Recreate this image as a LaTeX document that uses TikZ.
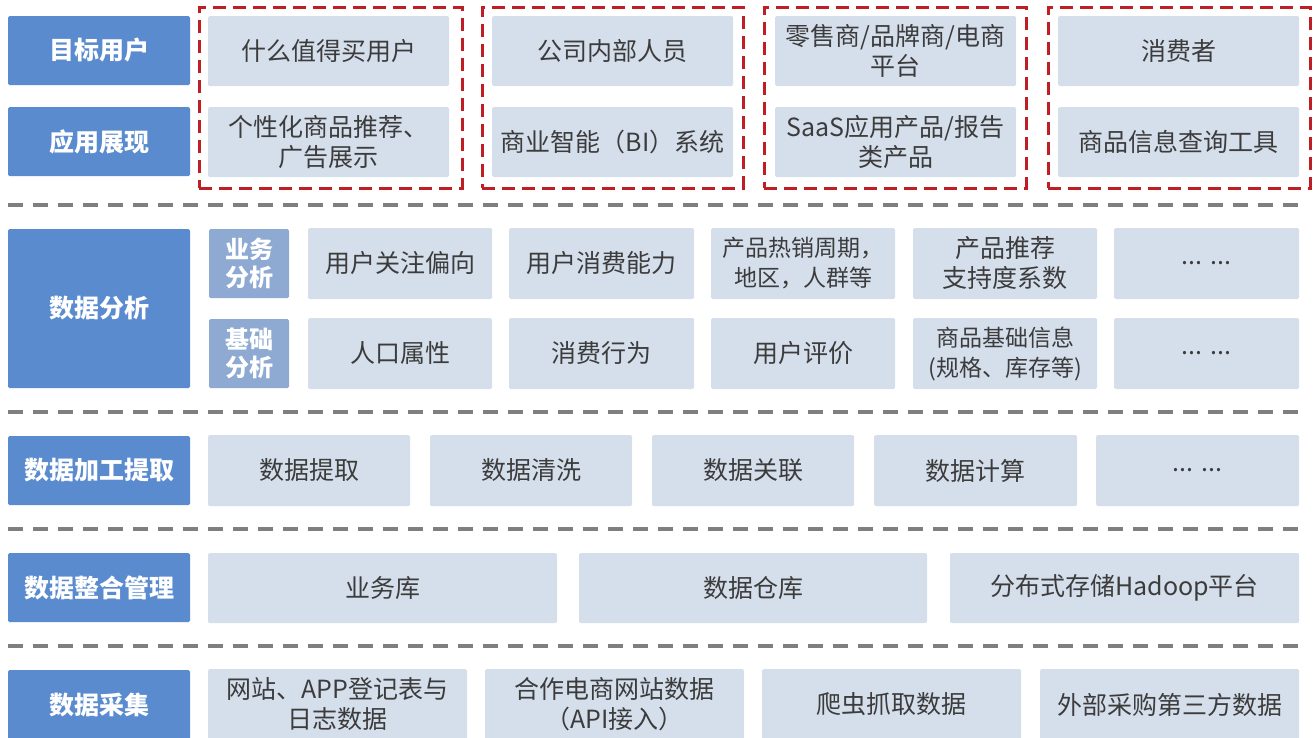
\documentclass[tikz,border=0pt]{standalone}
\usepackage{fontspec}
\setmainfont{Noto Sans CJK SC}
\definecolor{lblblue}{HTML}{5A8BCF}
\definecolor{subblue}{HTML}{8EAAD2}
\definecolor{cellgray}{HTML}{D5DFEC}
\definecolor{darkred}{HTML}{BE1E24}
\definecolor{sepgray}{HTML}{7F7F7F}
\definecolor{txtgray}{HTML}{3C3C3C}
\tikzset{
  base/.style={inner sep=0pt, align=center, rounded corners=1.5pt},
  lbl/.style={base, fill=lblblue, text=white, font=\fontsize{25}{30}\selectfont\bfseries},
  sublbl/.style={base, fill=subblue, text=white, font=\fontsize{24}{28}\selectfont\bfseries},
  cell/.style={base, fill=cellgray, text=txtgray, font=\fontsize{25}{30}\selectfont},
  tight/.style={font=\fontsize{23}{30}\selectfont},
  redbox/.style={base, rounded corners=0pt, draw=darkred, line width=3pt, dash pattern=on 13pt off 7pt},
  sepline/.style={draw=sepgray, line width=3.5pt, dash pattern=on 15pt off 10pt}
}
\newcommand\bx[7]{\node[#6, minimum width={(#4-#2)*1pt}, minimum height={(#5-#3)*1pt}] (#1) at ({(#2+#4)/2},{(#3+#5)/2}) {#7};}
\begin{document}
\begin{tikzpicture}[x=1pt, y=-1pt]
\useasboundingbox (0,0) rectangle (1313,737);
\clip (0,0) rectangle (1313,737);
% left labels
\bx{l1}{8}{16}{190}{85}{lbl}{目标用户}
\bx{l2}{8}{107}{190}{176}{lbl}{应用展现}
\bx{l3}{8}{229}{190}{388}{lbl}{数据分析}
\bx{l4}{8}{436}{190}{505}{lbl}{数据加工提取}
\bx{l5}{8}{553}{190}{622}{lbl}{数据整合管理}
\bx{l6}{8}{670}{190}{740}{lbl}{数据采集}
% top block
\bx{t11}{208}{16}{449}{86}{cell}{什么值得买用户}
\bx{t21}{208}{107}{449}{177}{cell}{个性化商品推荐、\\广告展示}
\bx{t12}{492}{16}{733}{86}{cell}{公司内部人员}
\bx{t22}{492}{107}{733}{177}{cell}{商业智能（BI）系统}
\bx{t13}{775}{16}{1016}{86}{cell}{零售商/品牌商/电商\\平台}
\bx{t23}{775}{107}{1016}{177}{cell}{SaaS应用产品/报告\\类产品}
\bx{t14}{1058}{16}{1299}{86}{cell}{消费者}
\bx{t24}{1058}{107}{1299}{177}{cell}{商品信息查询工具}
\bx{r1}{199}{7}{462}{188}{redbox}{}
\bx{r2}{482}{7}{743}{188}{redbox}{}
\bx{r3}{764}{7}{1026}{188}{redbox}{}
\bx{r4}{1048}{7}{1310}{188}{redbox}{}
% separators
\draw[sepline] (8,205) -- (1300,205);
\draw[sepline] (8,412) -- (1300,412);
\draw[sepline] (8,529) -- (1300,529);
\draw[sepline] (8,646) -- (1300,646);
% analysis
\bx{s1}{209}{229}{289}{298}{sublbl}{业务\\分析}
\bx{s2}{209}{319}{289}{388}{sublbl}{基础\\分析}
\bx{a11}{308}{228}{492}{299}{cell}{用户关注偏向}
\bx{a12}{509}{228}{694}{299}{cell}{用户消费能力}
\bx{a13}{711}{228}{895}{299}{cell,tight}{产品热销周期，\\地区，人群等}
\bx{a14}{913}{228}{1097}{299}{cell}{产品推荐\\支持度系数}
\bx{a15}{1114}{228}{1299}{299}{cell}{... ...}
\bx{a21}{308}{318}{492}{389}{cell}{人口属性}
\bx{a22}{509}{318}{694}{389}{cell}{消费行为}
\bx{a23}{711}{318}{895}{389}{cell}{用户评价}
\bx{a24}{913}{318}{1097}{389}{cell,tight}{商品基础信息\\(规格、库存等)}
\bx{a25}{1114}{318}{1299}{389}{cell}{... ...}
% processing
\bx{p1}{208}{435}{410}{506}{cell}{数据提取}
\bx{p2}{430}{435}{632}{506}{cell}{数据清洗}
\bx{p3}{652}{435}{854}{506}{cell}{数据关联}
\bx{p4}{874}{435}{1077}{506}{cell}{数据计算}
\bx{p5}{1096}{435}{1299}{506}{cell}{... ...}
% integration
\bx{g1}{208}{553}{557}{623}{cell}{业务库}
\bx{g2}{579}{553}{927}{623}{cell}{数据仓库}
\bx{g3}{950}{553}{1299}{623}{cell}{分布式存储Hadoop平台}
% collection
\bx{c1}{208}{669}{467}{740}{cell}{网站、APP登记表与\\日志数据}
\bx{c2}{485}{669}{744}{740}{cell}{合作电商网站数据\\（API接入）}
\bx{c3}{762}{669}{1021}{740}{cell}{爬虫抓取数据}
\bx{c4}{1040}{669}{1299}{740}{cell}{外部采购第三方数据}
\end{tikzpicture}
\end{document}
